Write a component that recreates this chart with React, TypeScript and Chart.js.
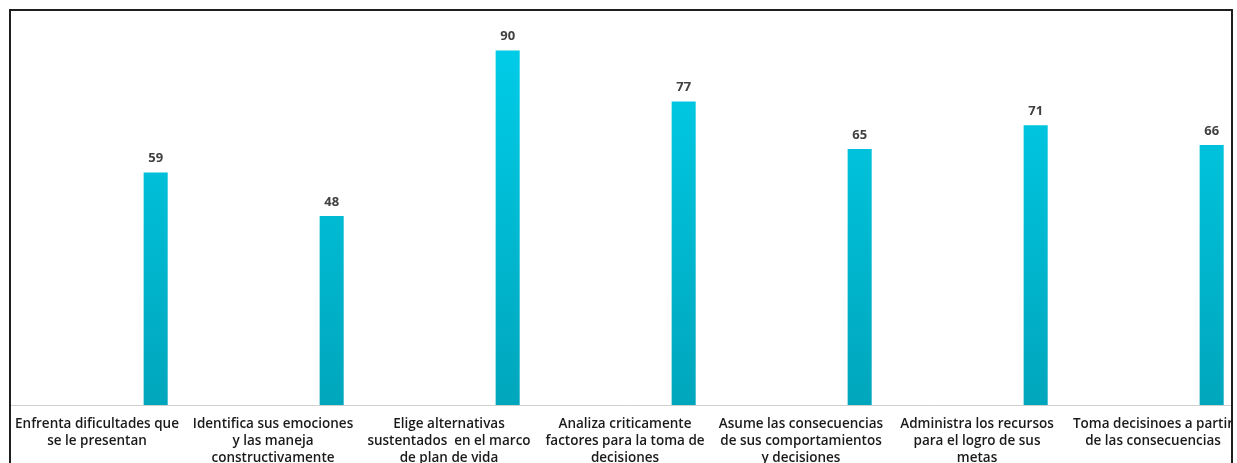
import React, { useEffect, useRef } from "react";
import { Chart, registerables } from "chart.js";

Chart.register(...registerables);

const categories: string[][] = [
  ["Enfrenta dificultades que", "se le presentan"],
  ["Identifica sus emociones", "y las maneja", "constructivamente"],
  ["Elige alternativas", "sustentados  en el marco", "de plan de vida"],
  ["Analiza criticamente", "factores para la toma de", "decisiones"],
  ["Asume las consecuencias", "de sus comportamientos", "y decisiones"],
  ["Administra los recursos", "para el logro de sus", "metas"],
  ["Toma decisinoes a partir", "de las consecuencias"],
];

const values: number[] = [59, 48, 90, 77, 65, 71, 66];
const emptySeries: (number | null)[] = [null, null, null, null, null, null, null];

const valueLabelPlugin = {
  id: "valueLabels",
  afterDatasetsDraw(chart: any) {
    const ctx = chart.ctx;
    const meta = chart.getDatasetMeta(2);
    ctx.save();
    ctx.font = "bold 13px 'Open Sans', sans-serif";
    ctx.fillStyle = "#404040";
    ctx.textAlign = "center";
    ctx.textBaseline = "middle";
    meta.data.forEach((bar: any, i: number) => {
      ctx.fillText(String(values[i]), bar.x, bar.y - 14);
    });
    ctx.restore();
  },
};

export default function App() {
  const ref = useRef<HTMLCanvasElement | null>(null);
  useEffect(() => {
    const canvas = ref.current!;
    const ctx = canvas.getContext("2d")!;
    const chart = new Chart(ctx, {
      type: "bar",
      data: {
        labels: categories,
        datasets: [
          { data: emptySeries, backgroundColor: "transparent" },
          { data: emptySeries, backgroundColor: "transparent" },
          {
            data: values,
            backgroundColor: (c: any) => {
              const area = c.chart.chartArea;
              if (!area) return "#03bcd6";
              const g = c.chart.ctx.createLinearGradient(0, area.top, 0, area.bottom);
              g.addColorStop(0, "#00d0ec");
              g.addColorStop(1, "#00a6bc");
              return g;
            },
            borderWidth: 0,
          },
        ],
      },
      options: {
        responsive: false,
        animation: false,
        layout: { padding: 0 },
        plugins: { legend: { display: false }, tooltip: { enabled: false } },
        datasets: { bar: { categoryPercentage: 1, barPercentage: 0.41 } },
        scales: {
          x: {
            grid: { display: false, drawTicks: false },
            border: { display: true, color: "#d0d0d0", width: 1 },
            ticks: {
              color: "#1a1a1a",
              font: { family: "'Open Sans', sans-serif", size: 13.5, weight: 600, lineHeight: 1.25 },
              maxRotation: 0,
              minRotation: 0,
              autoSkip: false,
              padding: 11,
            },
            afterFit: (s: any) => {
              s.height = 66;
              s.paddingLeft = 0;
              s.paddingRight = 0;
            },
          },
          y: {
            display: false,
            min: 0,
            max: 100,
          },
        },
      },
      plugins: [valueLabelPlugin],
    } as any);
    return () => chart.destroy();
  }, []);

  return (
    <div>
      <style>{`html,body{margin:0;overflow:hidden;background:#fff}`}</style>
      <div
        style={{
          position: "absolute",
          left: 9,
          top: 9,
          width: 1224,
          height: 470,
          borderTop: "2px solid #1e1e1e",
          borderLeft: "2px solid #1e1e1e",
          borderRight: "2px solid #1e1e1e",
          boxSizing: "border-box",
          overflow: "hidden",
        }}
      >
        <canvas
          ref={ref}
          width={1232}
          height={460}
          style={{ position: "absolute", left: -2, top: 0, width: 1232, height: 460 }}
        />
      </div>
    </div>
  );
}
